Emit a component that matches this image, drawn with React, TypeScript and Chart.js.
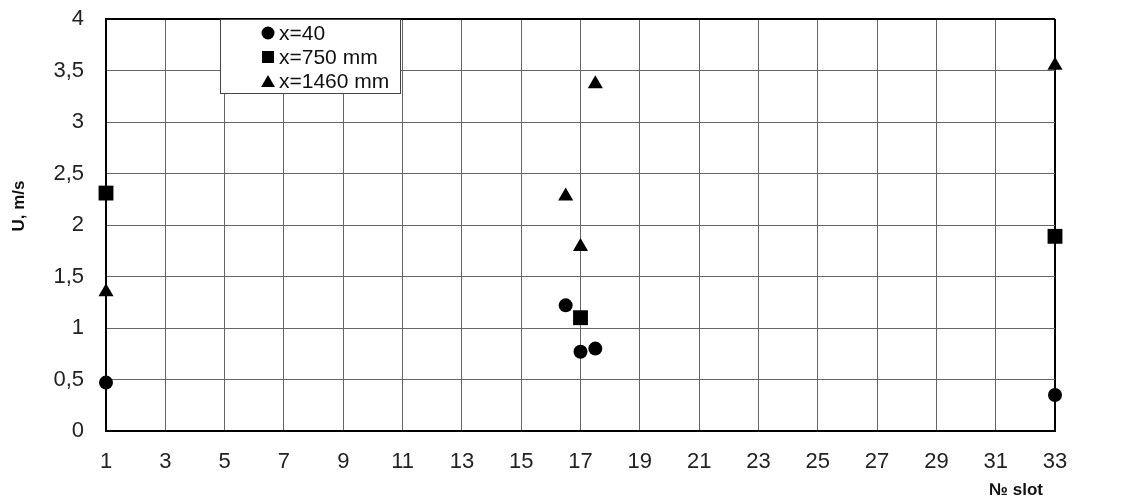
import React, { useEffect, useRef } from 'react';
import { Chart, registerables } from 'chart.js';

Chart.register(...registerables);

const xTickValues = [1, 3, 5, 7, 9, 11, 13, 15, 17, 19, 21, 23, 25, 27, 29, 31, 33];
const yTickValues = [0, 0.5, 1, 1.5, 2, 2.5, 3, 3.5, 4];
const seriesLabels = ['x=40', 'x=750 mm', 'x=1460 mm'];
const seriesStyles = ['circle', 'rect', 'triangle'];
const circleX = [1, 16.5, 17, 17.5, 33];
const circleY = [0.47, 1.22, 0.77, 0.8, 0.35];
const squareX = [1, 17, 33];
const squareY = [2.31, 1.1, 1.89];
const triangleX = [1, 16.5, 17, 17.5, 33];
const triangleY = [1.35, 2.28, 1.79, 3.37, 3.55];
const xTitle = '№ slot';
const yTitle = 'U, m/s';

const FONT = "'Liberation Sans', Arial, sans-serif";

const toPoints = (xs: number[], ys: number[]) => xs.map((x, i) => ({ x, y: ys[i] }));

function drawMarker(ctx: CanvasRenderingContext2D, style: string, x: number, y: number, r: number) {
  ctx.beginPath();
  if (style === 'circle') {
    ctx.arc(x, y, r, 0, Math.PI * 2);
  } else if (style === 'rect') {
    const s = r * Math.SQRT1_2;
    ctx.rect(x - s, y - s, 2 * s, 2 * s);
  } else {
    ctx.moveTo(x, y - r);
    ctx.lineTo(x + r * Math.sin(Math.PI / 3), y + r / 2);
    ctx.lineTo(x - r * Math.sin(Math.PI / 3), y + r / 2);
    ctx.closePath();
  }
  ctx.fill();
}

const overlayPlugin = {
  id: 'overlay',
  afterDraw(chart: any) {
    const { ctx, chartArea } = chart;
    ctx.save();
    ctx.fillStyle = '#111';
    ctx.font = `bold 17px ${FONT}`;
    ctx.textAlign = 'right';
    ctx.textBaseline = 'middle';
    ctx.fillText(xTitle, chartArea.right - 12, 490);
    ctx.save();
    ctx.translate(19, 206);
    ctx.rotate(-Math.PI / 2);
    ctx.textAlign = 'center';
    ctx.fillText(yTitle, 0, 0);
    ctx.restore();

    const bx = chartArea.left + 114;
    const by = chartArea.top;
    const bw = 180;
    const bh = 74;
    ctx.fillStyle = '#fff';
    ctx.fillRect(bx, by, bw, bh);
    ctx.strokeStyle = '#444';
    ctx.lineWidth = 1;
    ctx.strokeRect(bx + 0.5, by + 0.5, bw, bh);
    const radii = [6.5, 8.5, 8];
    chart.data.datasets.forEach((ds: any, i: number) => {
      const cy = by + 14 + i * 24;
      const mx = bx + 48;
      ctx.fillStyle = '#000';
      drawMarker(ctx, ds.pointStyle, mx, cy + (ds.pointStyle === 'triangle' ? 2 : 0), radii[i]);
      ctx.fillStyle = '#111';
      ctx.font = `21px ${FONT}`;
      ctx.textAlign = 'left';
      ctx.textBaseline = 'middle';
      ctx.fillText(ds.label, mx + 11, cy + 1);
    });
    ctx.restore();
  },
};

export default function App() {
  const ref = useRef<HTMLCanvasElement | null>(null);

  useEffect(() => {
    document.body.style.margin = '0';
    const canvas = ref.current;
    if (!canvas) return;
    const radii = [7, 10.5, 8.7];
    const xs = [circleX, squareX, triangleX];
    const ys = [circleY, squareY, triangleY];
    const chart = new Chart(canvas, {
      type: 'scatter',
      data: {
        datasets: seriesLabels.map((label, i) => ({
          label,
          data: toPoints(xs[i], ys[i]),
          pointStyle: seriesStyles[i] as any,
          pointRadius: radii[i],
          pointHoverRadius: radii[i],
          backgroundColor: '#000',
          borderColor: '#000',
          borderWidth: 0,
          clip: false as any,
        })),
      },
      options: {
        animation: false,
        responsive: false,
        devicePixelRatio: 1,
        layout: { autoPadding: false, padding: { left: 0, top: 19, right: 74, bottom: 0 } },
        plugins: { legend: { display: false }, tooltip: { enabled: false } },
        scales: {
          x: {
            type: 'linear',
            min: 1,
            max: 33,
            afterBuildTicks: (axis: any) => {
              axis.ticks = xTickValues.map((v) => ({ value: v }));
            },
            afterFit: (axis: any) => {
              axis.height = 71;
              axis.paddingLeft = 0;
              axis.paddingRight = 0;
            },
            ticks: {
              autoSkip: false,
              maxRotation: 0,
              padding: 18,
              color: '#222',
              font: { family: FONT, size: 22 },
            },
            grid: {
              drawTicks: false,
              color: (c: any) => (c.tick && c.tick.value === 33 ? '#000' : '#666'),
              lineWidth: (c: any) => (c.tick && c.tick.value === 33 ? 2 : 1),
            },
            border: { display: true, color: '#000', width: 2 },
          },
          y: {
            type: 'linear',
            min: 0,
            max: 4,
            afterBuildTicks: (axis: any) => {
              axis.ticks = yTickValues.map((v) => ({ value: v }));
            },
            afterFit: (axis: any) => {
              axis.width = 106;
              axis.paddingTop = 0;
              axis.paddingBottom = 0;
            },
            ticks: {
              padding: 22,
              color: '#222',
              font: { family: FONT, size: 22 },
              callback: (v: any) => String(v).replace('.', ','),
            },
            grid: {
              drawTicks: false,
              color: (c: any) => (c.tick && c.tick.value === 4 ? '#000' : '#666'),
              lineWidth: (c: any) => (c.tick && c.tick.value === 4 ? 2 : 1),
            },
            border: { display: true, color: '#000', width: 2 },
          },
        },
      },
      plugins: [overlayPlugin],
    });
    return () => chart.destroy();
  }, []);

  return (
    <div style={{ width: 1129, height: 502, background: '#fff' }}>
      <canvas ref={ref} width={1129} height={502} style={{ display: 'block' }} />
    </div>
  );
}
